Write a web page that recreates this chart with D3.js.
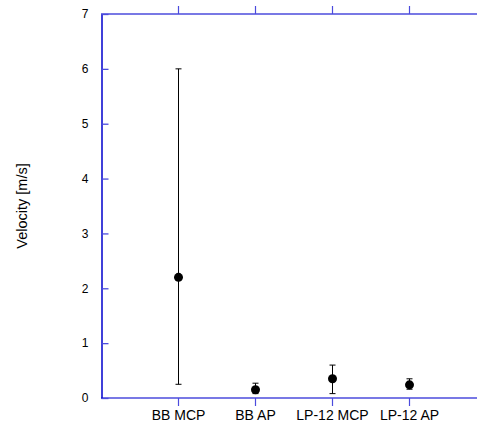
<!DOCTYPE html>
<html><head><meta charset="utf-8">
<script src="https://cdn.jsdelivr.net/npm/d3@7"></script>
<style>body{margin:0;background:#fff}svg{display:block}text{font-family:Arial,"Liberation Sans",sans-serif}</style>
</head><body>
<script>
const categories = ["BB MCP", "BB AP", "LP-12 MCP", "LP-12 AP"];
const means = [2.2, 0.15, 0.35, 0.24];
const lows = [0.25, 0.08, 0.08, 0.16];
const highs = [6.0, 0.27, 0.6, 0.35];
const yTicks = [0, 1, 2, 3, 4, 5, 6, 7];

const W = 477, H = 425;
const FONT = "Arial, 'Liberation Sans', sans-serif";
const svg = d3.select("body").append("svg").attr("width", W).attr("height", H);
const x = d3.scaleLinear().domain([0, 4.88]).range([101, 477]);
const y = d3.scaleLinear().domain([0, 7]).range([398, 14]);
const axisBlue = "#0000cc", lineBlue = "#4b4bdd";

// horizontal frame lines (top & bottom)
[0, 7].forEach(v => {
  svg.append("line").attr("x1", 101).attr("x2", W).attr("y1", y(v)).attr("y2", y(v))
    .attr("stroke", lineBlue).attr("stroke-width", 1.6);
});
// top ticks & bottom ticks, category labels
categories.forEach((c, i) => {
  const xx = Math.round(x(i + 1)) + 0.5;
  svg.append("line").attr("x1", xx).attr("x2", xx).attr("y1", y(7)).attr("y2", y(7) - 8)
    .attr("stroke", lineBlue).attr("stroke-width", 1.2);
  svg.append("line").attr("x1", xx).attr("x2", xx).attr("y1", y(0)).attr("y2", y(0) + 8)
    .attr("stroke", lineBlue).attr("stroke-width", 1.2);
  svg.append("text").attr("x", xx).attr("y", 420).attr("text-anchor", "middle")
    .attr("font-family", FONT).attr("font-size", 14).attr("fill", "#000").text(c);
});
// left axis
const yAxis = d3.axisLeft(y).tickValues(yTicks).tickFormat(d3.format("d"))
  .tickSizeInner(-7).tickSizeOuter(0).tickPadding(13);
const g = svg.append("g").attr("transform", "translate(101.5,0)").call(yAxis);
g.select(".domain").attr("stroke", axisBlue).attr("stroke-width", 1.5);
g.selectAll(".tick line").attr("stroke", lineBlue).attr("stroke-width", 1.3);
g.selectAll(".tick text").attr("font-size", 12).attr("fill", "#000").attr("font-family", FONT);

svg.append("text").attr("transform", `translate(27,${(y(0)+y(7))/2}) rotate(-90)`)
  .attr("text-anchor", "middle").attr("font-family", FONT).attr("font-size", 14.5).text("Velocity [m/s]");

// error bars and points
categories.forEach((c, i) => {
  const xx = Math.round(x(i + 1)) + 0.5;
  svg.append("line").attr("x1", xx).attr("x2", xx).attr("y1", y(lows[i])).attr("y2", y(highs[i]))
    .attr("stroke", "#000").attr("stroke-width", 1);
  [lows[i], highs[i]].forEach(v => {
    svg.append("line").attr("x1", xx - 3).attr("x2", xx + 3).attr("y1", y(v)).attr("y2", y(v))
      .attr("stroke", "#000").attr("stroke-width", 1);
  });
  svg.append("circle").attr("cx", xx).attr("cy", y(means[i])).attr("r", 4.5).attr("fill", "#000");
});
</script>
</body></html>
